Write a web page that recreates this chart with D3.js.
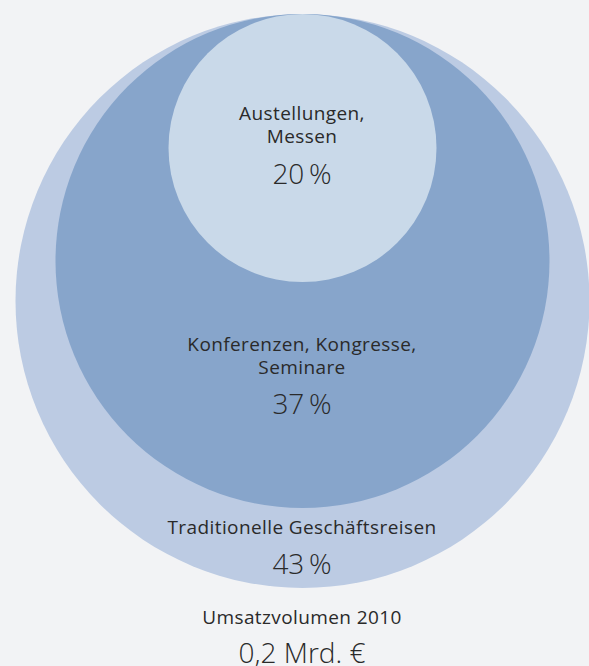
<!DOCTYPE html>
<html>
<head>
<meta charset="utf-8">
<script src="https://cdn.jsdelivr.net/npm/d3@7"></script>
<style>
  body { margin: 0; background: #f2f3f5; }
  text { font-family: "Open Sans", Lato, sans-serif; fill: #2a2a2a; }
  .lbl { font-weight: 400; font-size: 19px; letter-spacing: 0.4px; }
  .num { font-weight: 300; }
</style>
</head>
<body>
<div id="chart"></div>
<script>
// segments, from the inner circle out
let labels = [['Austellungen,', 'Messen'], ['Konferenzen, Kongresse,', 'Seminare'], ['Traditionelle Geschäftsreisen']]
let shares = [20, 37, 43]
let colors = ['#c9d9e9', '#87a5cb', '#bccbe3']
let totalLabel = 'Umsatzvolumen 2010'
let totalValue = '0,2 Mrd. €'

let width = 589
let height = 666
let topY = 14

let svg = d3
  .select('#chart')
  .append('svg')
  .attr('width', width)
  .attr('height', height)

let cum = d3.cumsum(shares)
let r = d3.scaleLinear().domain([20, 57, 100]).range([134, 247, 287])

let circles = shares.map((d, i) => ({ label: labels[i], share: d, cum: cum[i], color: colors[i] }))

svg
  .selectAll('circle')
  .data(circles.slice().reverse())
  .enter()
  .append('circle')
  .attr('cx', 302.5)
  .attr('cy', d => topY + r(d.cum))
  .attr('r', d => r(d.cum))
  .attr('fill', d => d.color)

// label baselines
let labelY = [120, 351, 534]
let pctY = [184, 414, 574]

circles.forEach((d, i) => {
  let t = svg.append('text')
    .attr('class', 'lbl')
    .attr('y', labelY[i])
    .attr('text-anchor', 'middle')
  d.label.forEach((line, j) => {
    t.append('tspan')
      .attr('x', 302)
      .attr('dy', j == 0 ? 0 : 23)
      .text(line)
  })
  svg.append('text')
    .attr('class', 'num')
    .attr('x', 302)
    .attr('y', pctY[i])
    .attr('text-anchor', 'middle')
    .attr('font-size', '28px')
    .text(d.share + '\u2009%')
})

svg.append('text')
  .attr('class', 'lbl')
  .attr('x', 302)
  .attr('y', 624)
  .attr('text-anchor', 'middle')
  .text(totalLabel)

svg.append('text')
  .attr('class', 'num')
  .attr('x', 302)
  .attr('y', 663)
  .attr('text-anchor', 'middle')
  .attr('font-size', '28px')
  .text(totalValue)
</script>
</body>
</html>
